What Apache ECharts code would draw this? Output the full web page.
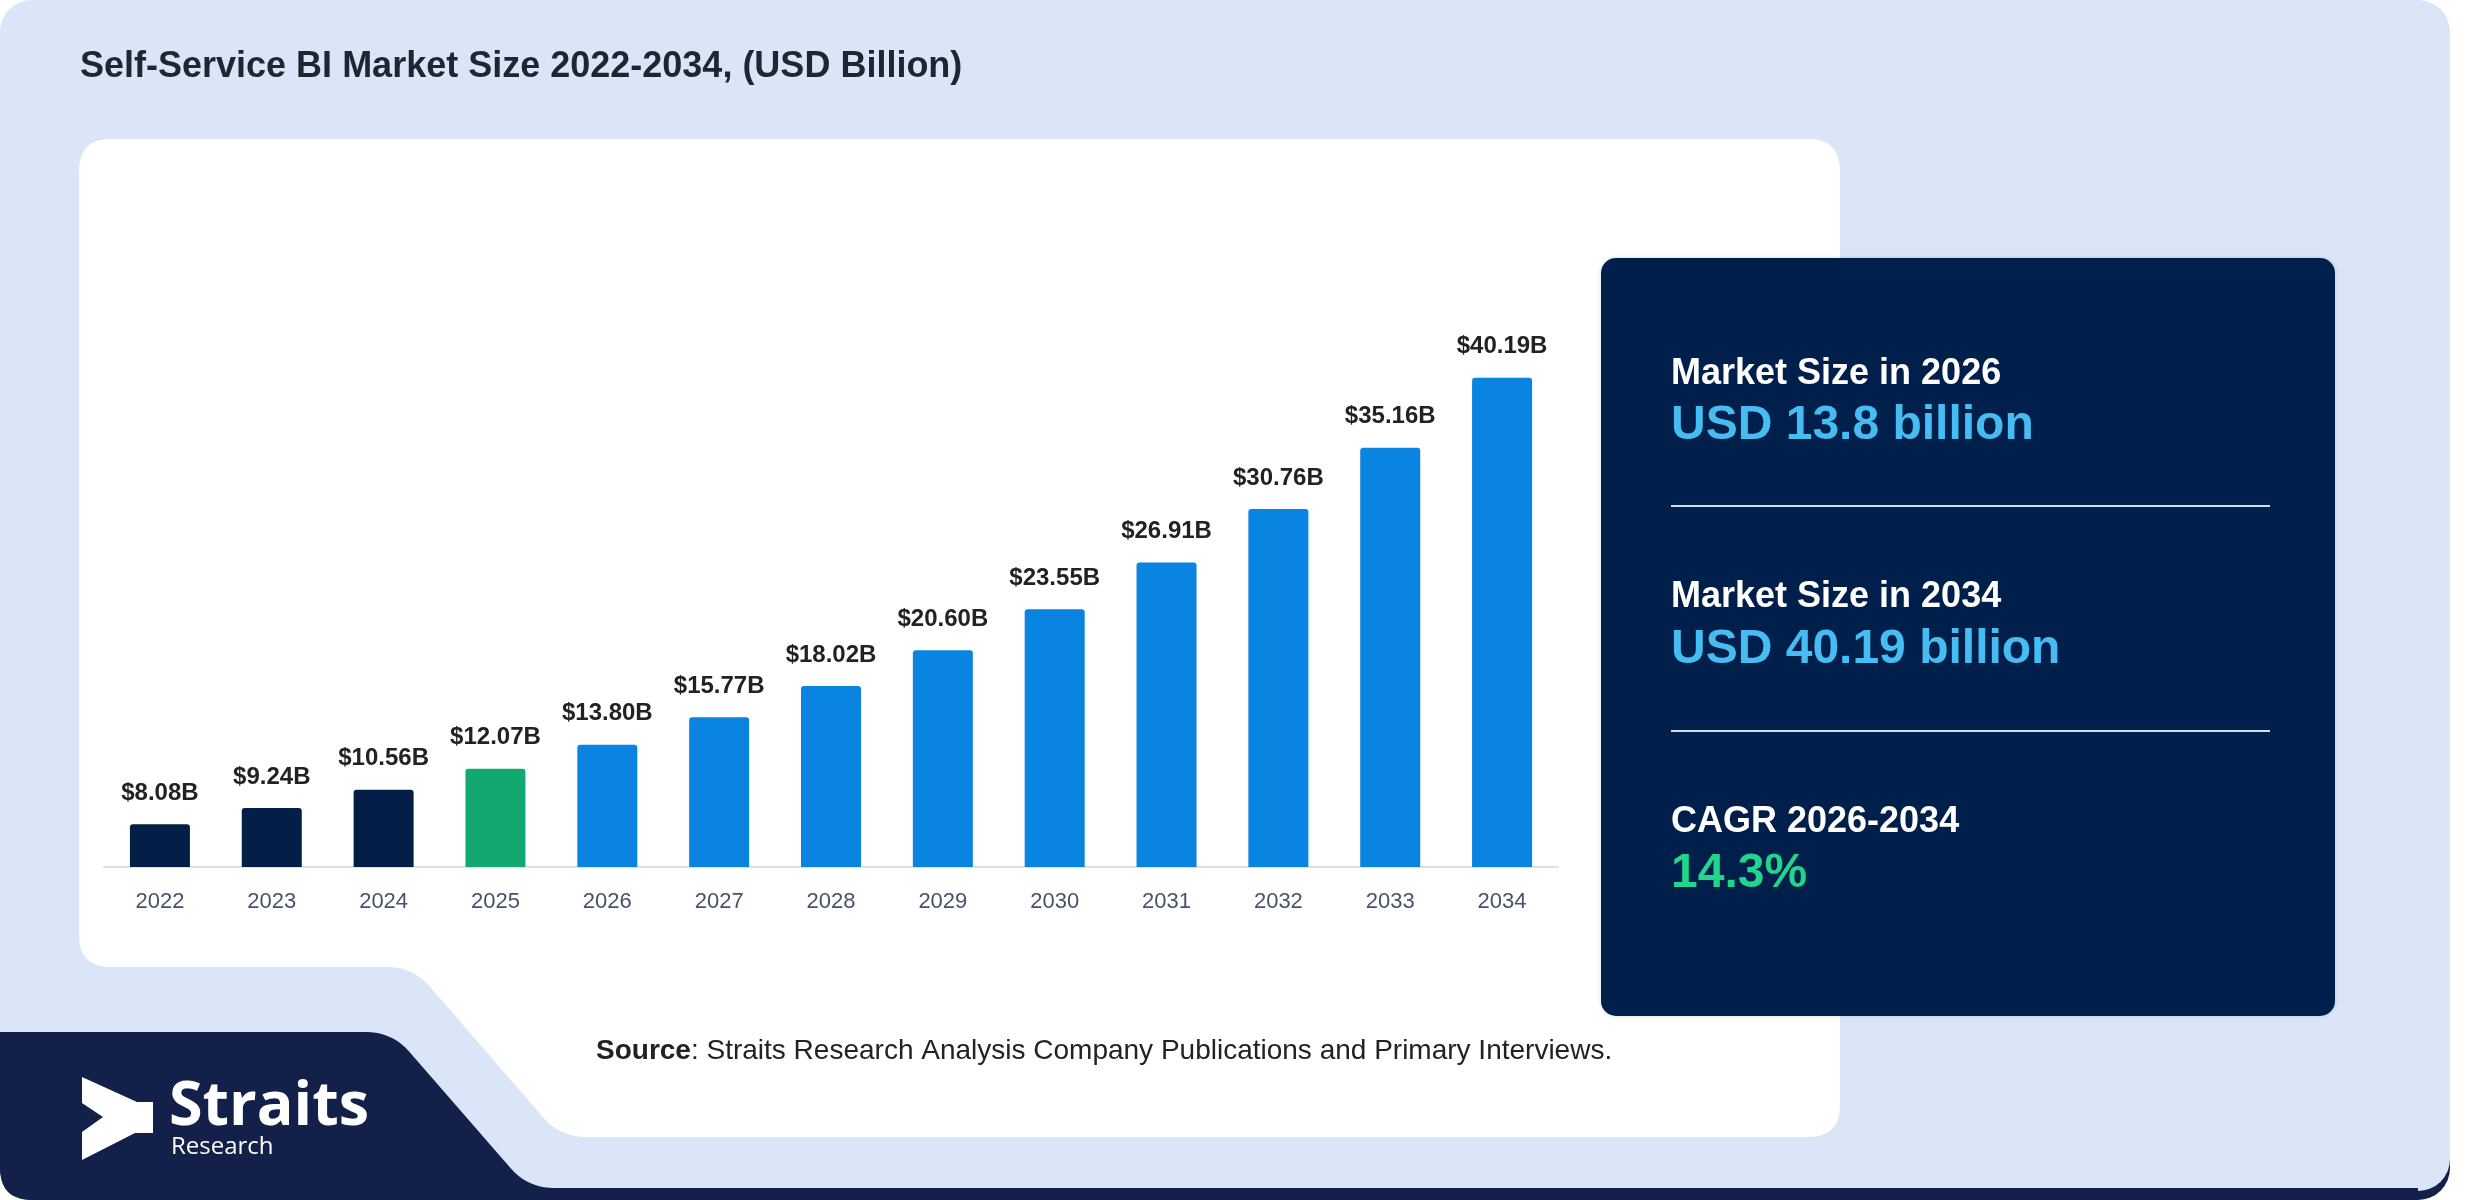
<!DOCTYPE html>
<html>
<head>
<meta charset="utf-8">
<script src="https://cdn.jsdelivr.net/npm/echarts@6/dist/echarts.min.js"></script>
<style>
  html, body { margin: 0; padding: 0; background: #ffffff; }
  #chart { width: 2480px; height: 1200px; }
</style>
</head>
<body>
<div id="chart"></div>
<script>
// ---- Data ----
const years = ['2022','2023','2024','2025','2026','2027','2028','2029','2030','2031','2032','2033','2034'];
const marketSize = [8.08, 9.24, 10.56, 12.07, 13.80, 15.77, 18.02, 20.60, 23.55, 26.91, 30.76, 35.16, 40.19];
const baseYear = 2025;
const chartTitle = 'Self-Service BI Market Size 2022-2034, (USD Billion)';
const panelLabels = ['Market Size in 2026', 'Market Size in 2034', 'CAGR 2026-2034'];
const panelValues = ['USD 13.8 billion', 'USD 40.19 billion', '14.3%'];
const sourceLabel = 'Source';
const sourceText = ': Straits Research Analysis Company Publications and Primary Interviews.';

// ---- Styles ----
const NAVY = '#031f47';
const GREEN = '#12a870';
const BLUE = '#0a84e1';
const BG = '#dae6f8';
const FONT = '"Liberation Sans", Arial, sans-serif';

// rounded polygon helper for decorative shapes
function roundPoly(pts, r) {
  const out = [];
  const n = pts.length;
  for (let i = 0; i < n; i++) {
    const p0 = pts[(i - 1 + n) % n], p1 = pts[i], p2 = pts[(i + 1) % n];
    const rr = Array.isArray(r) ? r[i] : r;
    if (!rr) { out.push(p1); continue; }
    const d1 = Math.hypot(p0[0] - p1[0], p0[1] - p1[1]);
    const d2 = Math.hypot(p2[0] - p1[0], p2[1] - p1[1]);
    const a = [p1[0] + (p0[0] - p1[0]) * Math.min(rr, d1 / 2) / d1, p1[1] + (p0[1] - p1[1]) * Math.min(rr, d1 / 2) / d1];
    const b = [p1[0] + (p2[0] - p1[0]) * Math.min(rr, d2 / 2) / d2, p1[1] + (p2[1] - p1[1]) * Math.min(rr, d2 / 2) / d2];
    for (let k = 0; k <= 10; k++) {
      const t = k / 10;
      out.push([
        (1 - t) * (1 - t) * a[0] + 2 * (1 - t) * t * p1[0] + t * t * b[0],
        (1 - t) * (1 - t) * a[1] + 2 * (1 - t) * t * p1[1] + t * t * b[1]
      ]);
    }
  }
  return out;
}

const chart = echarts.init(document.getElementById('chart'), null, { renderer: 'canvas' });

const panelX = 1671;
const panelRows = [
  { labelY: 374, valueY: 426, color: '#45bdf3' },
  { labelY: 597, valueY: 650, color: '#45bdf3' },
  { labelY: 822, valueY: 874, color: '#20d68c' }
];

const navyShape = roundPoly([[0,1032],[392,1032],[528,1188],[2418,1188],[2418,1200],[0,1200]], [0,26,26,0,0,32]);
const whiteCard = roundPoly([[79,139],[1840,139],[1840,1137],[560,1137],[413,967],[79,967]], [32,32,32,26,26,32]);

const graphicEls = [
  { type: 'rect', z: -20, shape: { x: 0, y: 1120, width: 2450, height: 80, r: [0, 0, 32, 32] }, style: { fill: '#13214a' } },
  { type: 'rect', z: -19, shape: { x: 0, y: 0, width: 2450, height: 1191, r: 32 }, style: { fill: BG } },
  { type: 'polygon', z: -18, shape: { points: navyShape }, style: { fill: '#13214a' } },
  { type: 'polygon', z: -17, shape: { points: whiteCard }, style: { fill: '#ffffff' } },
  { type: 'rect', z: -16, shape: { x: 1601, y: 258, width: 734, height: 758, r: 15 }, style: { fill: '#001f4a', shadowBlur: 4, shadowColor: 'rgba(0,0,0,0.15)' } },
  { type: 'text', z: 10, x: 80, y: 67, style: { text: chartTitle, fill: '#1f2630', font: 'bold 36px ' + FONT, verticalAlign: 'middle' } },
  { type: 'text', z: 10, x: 596, y: 1051, style: {
      text: '{b|' + sourceLabel + '}{n|' + sourceText + '}',
      verticalAlign: 'middle',
      rich: {
        b: { fontWeight: 'bold', fontSize: 28, fontFamily: FONT, fill: '#222222' },
        n: { fontSize: 28, fontFamily: FONT, fill: '#222222' }
      }
  } },
  { type: 'polygon', z: 10, shape: { points: [[82,1077],[137,1102],[153,1102],[153,1133],[135,1133],[82,1160],[82,1132],[103,1117],[82,1103]] }, style: { fill: '#ffffff' } },
  { type: 'text', z: 10, x: 169, y: 1108, style: { text: 'Straits', fill: '#ffffff', font: 'bold 61px "Open Sans", sans-serif', verticalAlign: 'middle' } },
  { type: 'text', z: 10, x: 171, y: 1147, style: { text: 'Research', fill: '#ffffff', font: '24px "Open Sans", sans-serif', verticalAlign: 'middle' } },
  { type: 'line', z: 10, shape: { x1: panelX, y1: 506, x2: 2270, y2: 506 }, style: { stroke: '#d5dde8', lineWidth: 2 } },
  { type: 'line', z: 10, shape: { x1: panelX, y1: 731, x2: 2270, y2: 731 }, style: { stroke: '#d5dde8', lineWidth: 2 } }
];

panelRows.forEach((row, i) => {
  graphicEls.push({ type: 'text', z: 10, x: panelX, y: row.labelY, style: { text: panelLabels[i], fill: '#ffffff', font: 'bold 36px ' + FONT, verticalAlign: 'middle' } });
  graphicEls.push({ type: 'text', z: 10, x: panelX, y: row.valueY, style: { text: panelValues[i], fill: row.color, font: 'bold 48px ' + FONT, verticalAlign: 'middle' } });
});

const option = {
  animation: false,
  backgroundColor: '#ffffff',
  grid: { left: 104, right: 922, top: 311, bottom: 333, containLabel: false },
  xAxis: {
    type: 'category',
    data: years,
    z: 5,
    axisLine: { show: true, lineStyle: { color: '#dde1e6', width: 2 } },
    axisTick: { show: false },
    axisLabel: { color: '#46536a', fontSize: 22, fontFamily: FONT, margin: 24 },
    splitLine: { show: false }
  },
  yAxis: {
    type: 'value',
    min: 5,
    max: 45,
    show: false,
    splitLine: { show: false }
  },
  series: [{
    type: 'bar',
    data: marketSize,
    barWidth: 60,
    z: 6,
    itemStyle: {
      borderRadius: [3, 3, 0, 0],
      color: function (p) {
        const y = Number(years[p.dataIndex]);
        if (y < baseYear) return NAVY;
        if (y === baseYear) return GREEN;
        return BLUE;
      }
    },
    label: {
      show: true,
      position: 'top',
      distance: 19,
      color: '#222222',
      fontSize: 24,
      fontWeight: 'bold',
      fontFamily: FONT,
      formatter: function (p) { return '$' + p.value.toFixed(2) + 'B'; }
    }
  }],
  graphic: { elements: graphicEls }
};

chart.setOption(option);
</script>
</body>
</html>
